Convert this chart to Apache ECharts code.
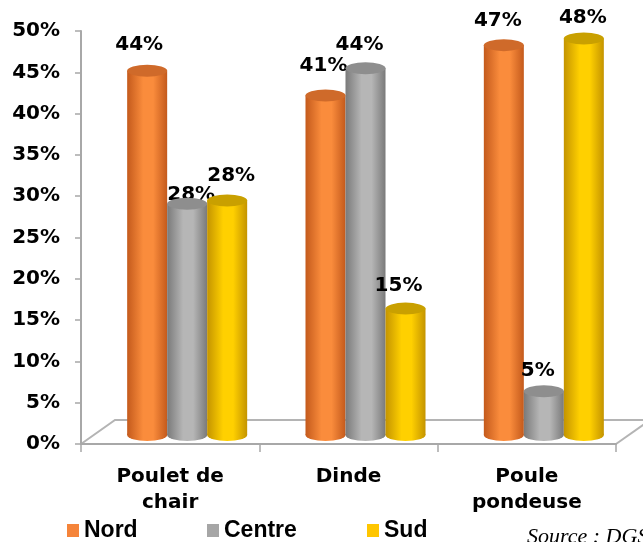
<!DOCTYPE html>
<html>
<head>
<meta charset="utf-8">
<script src="https://cdn.jsdelivr.net/npm/echarts@6/dist/echarts.min.js"></script>
<style>
html,body{margin:0;padding:0;background:#fff;}
#chart{width:643px;height:542px;}
</style>
</head>
<body>
<div id="chart"></div>
<script>
var categories = ['Poulet de\nchair', 'Dinde', 'Poule\npondeuse'];
var seriesNames = ['Nord', 'Centre', 'Sud'];
var nord = [44.1, 41.1, 47.2];
var centre = [28.0, 44.4, 5.3];
var sud = [28.4, 15.3, 48.0];
var yTicks = [0, 5, 10, 15, 20, 25, 30, 35, 40, 45, 50];

// label nudges (style only), per series / category: [dx, dy]
var labelNudge = [
  [[-8, -6], [-2, -10], [-6, -4]],
  [[4, 11], [-6, -3], [-6, 0]],
  [[4, -5], [-7, -3], [-1, -1]]
];
var legendLeft = [67, 207, 367];

var values = [nord, centre, sud];
var palette = [
  {edge: '#C45A1C', mid: '#FA8C3C', top: '#CF6A2A', flat: '#F5843A'},
  {edge: '#7A7A7A', mid: '#B6B6B6', top: '#8E8E8E', flat: '#A6A6A6'},
  {edge: '#C49400', mid: '#FFD000', top: '#C9A000', flat: '#FFC600'}
];
function grad(p) {
  return new echarts.graphic.LinearGradient(0, 0, 1, 0, [
    {offset: 0, color: p.edge},
    {offset: 0.4, color: p.mid},
    {offset: 0.65, color: p.mid},
    {offset: 1, color: p.edge}
  ]);
}

var chart = echarts.init(document.getElementById('chart'), null, {renderer: 'canvas'});
var font = '"DejaVu Sans", Verdana, sans-serif';
var legendFont = '"Liberation Sans", Arial, sans-serif';

var series = [];
for (var i = 0; i < 3; i++) {
  series.push({
    name: seriesNames[i], type: 'bar', xAxisIndex: 1, yAxisIndex: 1,
    barWidth: 40, barGap: 0, z: 3,
    itemStyle: {color: grad(palette[i])},
    label: {
      show: true, position: 'top', distance: 10,
      fontFamily: font, fontWeight: 'bold', fontSize: 20, color: '#000',
      formatter: function (p) { return Math.round(p.value) + '%'; }
    },
    data: values[i].map(function (v, c) {
      return {value: v, label: {offset: labelNudge[i][c]}};
    })
  });
}
for (var j = 0; j < 3; j++) {
  series.push({
    name: seriesNames[j], type: 'pictorialBar', xAxisIndex: 1, yAxisIndex: 1,
    symbol: 'circle', symbolSize: [40, 12], symbolPosition: 'end',
    symbolOffset: [0, '-50%'], barWidth: 40, barGap: 0, z: 4,
    itemStyle: {color: palette[j].top},
    silent: true,
    data: values[j]
  });
}
for (var k = 0; k < 3; k++) {
  series.push({
    name: seriesNames[k], type: 'pictorialBar', xAxisIndex: 2, yAxisIndex: 2,
    symbol: 'circle', symbolSize: [40, 12], symbolPosition: 'start',
    symbolOffset: [0, '50%'], barWidth: 40, barGap: 0, z: 3,
    itemStyle: {color: grad(palette[k])},
    silent: true,
    data: values[k]
  });
}

var hiddenX = {type: 'category', data: categories, show: false};
var hiddenY = {type: 'value', min: 0, max: 50, interval: 5, show: false};

var legends = seriesNames.map(function (n, i) {
  return {
    left: legendLeft[i], top: 519, padding: 0, itemWidth: 12, itemHeight: 13, icon: 'rect', itemGap: 5,
    textStyle: {fontFamily: legendFont, fontWeight: 'bold', fontSize: 23, color: '#000'},
    data: [{name: n, itemStyle: {color: palette[i].flat}}]
  };
});

chart.setOption({
  backgroundColor: '#fff',
  animation: false,
  grid: [
    {left: 81, right: 27, top: 31, bottom: 98},
    {left: 98, right: 10, top: 22, bottom: 107},
    {left: 98, right: 10, top: 22, bottom: 107}
  ],
  xAxis: [
    {
      type: 'category', data: categories, gridIndex: 0,
      axisLine: {show: true, lineStyle: {color: '#A8A8A8', width: 2}},
      axisTick: {show: true, length: 8, alignWithLabel: false, lineStyle: {color: '#A8A8A8', width: 1.5}},
      axisLabel: {fontFamily: font, fontWeight: 'bold', fontSize: 20, color: '#000', margin: 20, lineHeight: 26}
    },
    Object.assign({gridIndex: 1}, hiddenX),
    Object.assign({gridIndex: 2}, hiddenX)
  ],
  yAxis: [
    {
      type: 'value', min: yTicks[0], max: yTicks[yTicks.length - 1], interval: 5, gridIndex: 0,
      splitLine: {show: false},
      axisLine: {show: true, lineStyle: {color: '#A8A8A8', width: 2}},
      axisTick: {show: true, length: 6, lineStyle: {color: '#A8A8A8', width: 1.5}},
      axisLabel: {fontFamily: font, fontWeight: 'bold', fontSize: 20, color: '#000', margin: 21,
        formatter: '{value}%'}
    },
    Object.assign({gridIndex: 1}, hiddenY),
    Object.assign({gridIndex: 2}, hiddenY)
  ],
  legend: legends,
  graphic: [
    {
      type: 'polyline', z: 0, silent: true,
      shape: {points: [[81, 444], [115, 420], [660, 420]]},
      style: {stroke: '#B4B4B4', lineWidth: 2, fill: null}
    },
    {
      type: 'line', z: 0, silent: true,
      shape: {x1: 616, y1: 444, x2: 650, y2: 420},
      style: {stroke: '#B4B4B4', lineWidth: 2}
    },
    {
      type: 'text', left: 527, top: 526, silent: true,
      style: {text: 'Source : DGSV', font: 'italic 22px "Liberation Serif", "Times New Roman", serif', fill: '#000'}
    }
  ],
  series: series
});
</script>
</body>
</html>
